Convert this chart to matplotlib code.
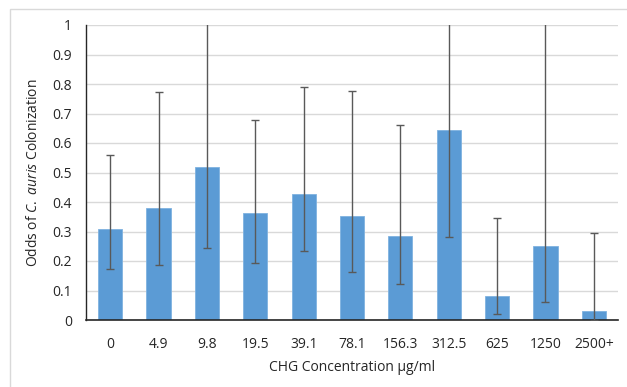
import matplotlib
matplotlib.use("Agg")
import matplotlib.pyplot as plt
from matplotlib.patches import Rectangle
import numpy as np

categories = ["0", "4.9", "9.8", "19.5", "39.1", "78.1", "156.3", "312.5", "625", "1250", "2500+"]
odds = [0.309, 0.380, 0.519, 0.362, 0.428, 0.353, 0.285, 0.645, 0.081, 0.252, 0.029]
lower = [0.172, 0.188, 0.243, 0.192, 0.233, 0.162, 0.122, 0.280, 0.019, 0.061, 0.001]
upper = [0.559, 0.774, 1.5, 0.679, 0.791, 0.775, 0.660, 1.5, 0.346, 1.5, 0.295]
yticks = [0, 0.1, 0.2, 0.3, 0.4, 0.5, 0.6, 0.7, 0.8, 0.9, 1]
ytick_labels = ["0", "0.1", "0.2", "0.3", "0.4", "0.5", "0.6", "0.7", "0.8", "0.9", "1"]

plt.rcParams["font.family"] = ["Open Sans", "DejaVu Sans"]
plt.rcParams["mathtext.fontset"] = "custom"
plt.rcParams["mathtext.rm"] = "Open Sans"
plt.rcParams["mathtext.it"] = "Open Sans:italic"

fig = plt.figure(figsize=(6.27, 3.87), dpi=100)
ax = fig.add_axes([86/627, 1-320/387, (618-86)/627, (320-25)/387])

x = np.arange(len(categories))
odds_a = np.array(odds)
yerr = np.vstack([odds_a - np.array(lower), np.array(upper) - odds_a])
ax.bar(x, odds, width=0.5, color="#5B9BD5", edgecolor="#7FB2E0", linewidth=0.6, zorder=2)
ax.errorbar(x, odds, yerr=yerr, fmt="none", ecolor="#595959", elinewidth=1.0,
            capsize=3, capthick=1.0, zorder=3)

ax.set_xlim(-0.5, len(categories) - 0.5)
ax.set_ylim(0, 1)
ax.set_yticks(yticks)
ax.set_yticklabels(ytick_labels)
ax.set_xticks(x)
ax.set_xticklabels(categories)
ax.tick_params(axis="both", length=0, labelsize=10, colors="#262626")
ax.tick_params(axis="y", pad=10)
ax.tick_params(axis="x", pad=12)
ax.grid(axis="y", color="#D9D9D9", linewidth=1.0, zorder=0)
ax.set_axisbelow(True)
for s in ["top", "right"]:
    ax.spines[s].set_visible(False)
ax.spines["left"].set_color("#262626")
ax.spines["bottom"].set_color("#262626")
ax.spines["left"].set_linewidth(1.0)
ax.spines["bottom"].set_linewidth(1.2)

ax.set_ylabel(r"Odds of $\it{C.\ auris}$ Colonization", fontsize=10, color="#262626", labelpad=8)
ax.set_xlabel("CHG Concentration µg/ml", fontsize=10, color="#262626", labelpad=6)

fig.patches.append(Rectangle((10/627, -0.05), 1.1, 1-9/387+0.05, transform=fig.transFigure,
                             fill=False, edgecolor="#D9D9D9", linewidth=1.0))

fig.savefig("out.png", dpi=100)
